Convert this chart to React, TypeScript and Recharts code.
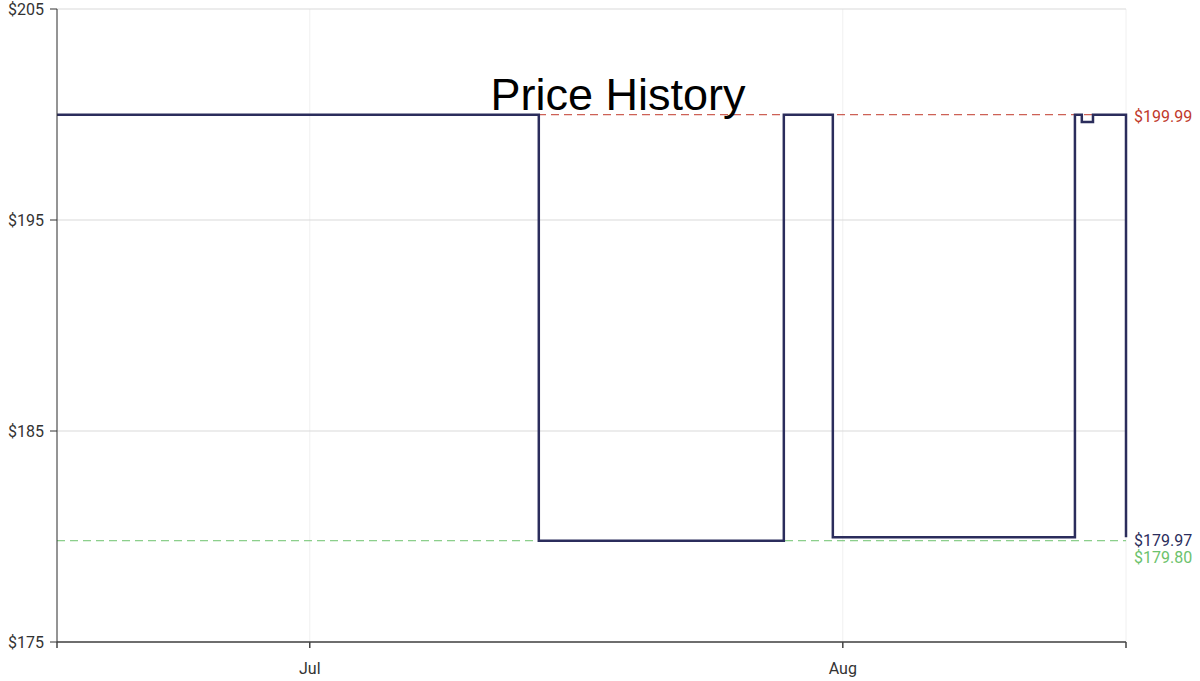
import { CartesianGrid, Line, LineChart, ReferenceLine, XAxis, YAxis } from "recharts";

// days counted from Jul 1
const days = [-14.7, 13.32, 27.57, 30.42, 44.5, 44.9, 45.55, 47.47];
const prices = [199.99, 179.8, 199.99, 179.97, 199.99, 199.65, 199.99, 179.97];

const xTicks = [-14.7, 0, 31, 47.47];
const xTickLabels: Record<number, string> = { 0: "Jul", 31: "Aug" };
const yTicks = [175, 185, 195, 205];

const highest = 199.99;
const lowest = 179.8;
const current = 179.97;

const data = days.map((d, i) => ({ day: d, price: prices[i] }));

const tickStyle = { fontSize: 16, fill: "#333", fontFamily: "Roboto" };
const labelBase = { position: "right" as const, offset: 8, fontSize: 16, fontFamily: "Roboto" };

export default function App() {
  return (
    <div style={{ position: "absolute", left: 0, top: 0, width: 1200, height: 681, background: "#fff" }}>
      <LineChart width={1200} height={681} data={data} margin={{ top: 9, right: 74, left: 0, bottom: 0 }}>
        <CartesianGrid horizontal={false} stroke="#f0f0f0" />
        <CartesianGrid vertical={false} stroke="#d9d9d9" />
        <XAxis
          type="number"
          dataKey="day"
          domain={[-14.7, 47.47]}
          ticks={xTicks}
          tickFormatter={(v: number) => xTickLabels[v] ?? ""}
          height={39}
          tickSize={6}
          tickMargin={15}
          stroke="#444"
          strokeWidth={1.5}
          tick={tickStyle}
        />
        <YAxis
          type="number"
          domain={[175, 205]}
          ticks={yTicks}
          tickFormatter={(v: number) => `$${v}`}
          width={57}
          tickSize={7}
          tickMargin={6}
          stroke="#333"
          tick={tickStyle}
          interval={0}
        />
        <ReferenceLine
          y={highest}
          stroke="#c0392b"
          strokeDasharray="8 5"
          label={{ ...labelBase, value: `$${highest.toFixed(2)}`, dy: 2, fill: "#c0392b" }}
        />
        <ReferenceLine
          y={lowest}
          stroke="#6cc26c"
          strokeDasharray="8 5"
          label={{ ...labelBase, value: `$${lowest.toFixed(2)}`, dy: 17, fill: "#6cc26c" }}
        />
        <ReferenceLine
          y={current}
          strokeOpacity={0}
          label={{ ...labelBase, value: `$${current.toFixed(2)}`, dy: 3, fill: "#2b2d5c" }}
        />
        <Line
          type="stepAfter"
          dataKey="price"
          stroke="#2b2d5c"
          strokeWidth={2.5}
          dot={false}
          isAnimationActive={false}
        />
      </LineChart>
      <div
        style={{
          position: "absolute",
          left: 418,
          width: 400,
          top: 70,
          textAlign: "center",
          fontFamily: "'Liberation Sans', Arial, sans-serif",
          fontSize: 45,
          lineHeight: "50px",
          color: "#000",
        }}
      >
        Price History
      </div>
    </div>
  );
}
